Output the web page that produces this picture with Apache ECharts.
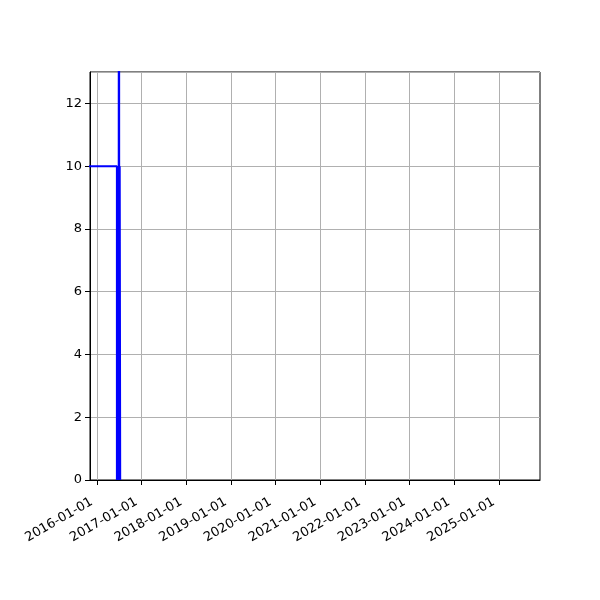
<!DOCTYPE html>
<html>
<head>
<meta charset="utf-8">
<script src="https://cdn.jsdelivr.net/npm/echarts@6/dist/echarts.min.js"></script>
<style>
  html, body { margin: 0; padding: 0; background: #fff; }
  #chart { width: 600px; height: 600px; }
</style>
</head>
<body>
<div id="chart"></div>
<script>
// step series
var dates = ['2015-10-01', '2016-06-12', '2016-06-15', '2016-06-18', '2016-06-21',
             '2016-06-24', '2016-06-27', '2016-06-29', '2016-07-01', '2016-07-05', '2016-07-09'];
var values = [10, 0, 10, 0, 10, 0, 10, 40, 0, 10, 0];

var xTicks = ['2016-01-01', '2017-01-01', '2018-01-01', '2019-01-01', '2020-01-01',
              '2021-01-01', '2022-01-01', '2023-01-01', '2024-01-01', '2025-01-01'];
var xStart = '2015-11-05';
var xEnd = '2025-12-02';

(function () {
    var myChart = echarts.init(document.getElementById('chart'));

    var data = dates.map(function (d, i) {
        return [d, values[i]];
    });
    var tickValues = xTicks.map(function (d) {
        return echarts.time.parse(d).getTime();
    });

    var font = { fontFamily: 'DejaVu Sans', fontSize: 13, color: '#000' };

    option = {
        animation: false,
        backgroundColor: '#fff',
        grid: {
            left: 90,
            right: 60,
            top: 72,
            bottom: 120,
            show: true,
            borderColor: '#000',
            borderWidth: 1
        },
        xAxis: {
            type: 'time',
            min: xStart,
            max: xEnd,
            axisLine: { show: true, lineStyle: { color: '#000' } },
            axisTick: {
                show: true, length: 5, inside: false,
                customValues: tickValues,
                lineStyle: { color: '#000' }
            },
            axisLabel: Object.assign({
                rotate: 30,
                customValues: tickValues,
                formatter: '{yyyy}-{MM}-{dd}',
                margin: 18,
                padding: [0, 6, 0, 0],
                hideOverlap: false
            }, font),
            splitLine: { show: true, lineStyle: { color: '#b0b0b0', width: 1 } },
            minorTick: { show: false }
        },
        yAxis: {
            type: 'value',
            min: 0,
            max: 13,
            interval: 2,
            axisLine: { show: true, lineStyle: { color: '#000' } },
            axisTick: { show: true, length: 5, lineStyle: { color: '#000' } },
            axisLabel: Object.assign({ margin: 8, showMaxLabel: false }, font),
            splitLine: { show: true, lineStyle: { color: '#b0b0b0', width: 1 } }
        },
        series: [
            {
                type: 'line',
                step: 'end',
                data: data,
                showSymbol: false,
                clip: true,
                lineStyle: { color: '#0000ff', width: 2 },
                itemStyle: { color: '#0000ff' }
            }
        ]
    };

    myChart.setOption(option);
})();
</script>
</body>
</html>
